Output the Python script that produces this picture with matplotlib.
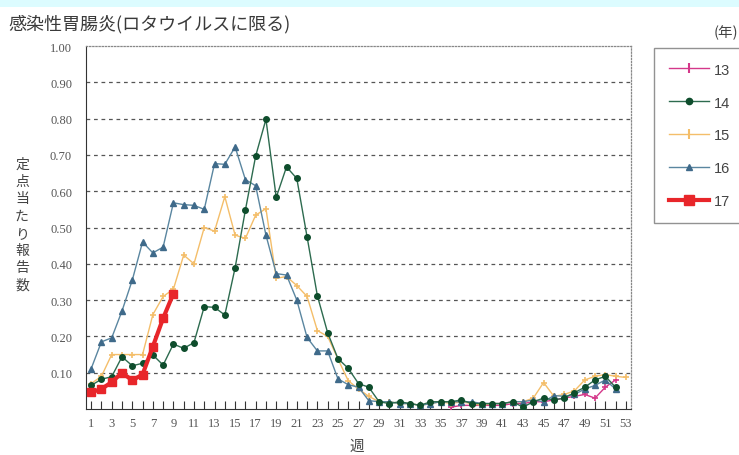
import matplotlib
matplotlib.use("Agg")
import matplotlib.pyplot as plt
import matplotlib.patches as patches
from matplotlib.lines import Line2D

plt.rcParams['font.family'] = ['Noto Sans CJK JP', 'DejaVu Sans']

weeks = list(range(1, 54))

y2013_weeks = list(range(36, 53))
y2013 = [0.005, 0.01, 0.01, 0.01, 0.01, 0.01, 0.015, 0.015, 0.02, 0.02,
         0.025, 0.03, 0.035, 0.04, 0.03, 0.06, 0.08]

y2014 = [0.065, 0.082, 0.089, 0.144, 0.119, 0.126, 0.149, 0.121, 0.179, 0.167,
         0.183, 0.282, 0.28, 0.259, 0.389, 0.548, 0.697, 0.798, 0.583, 0.667,
         0.635, 0.474, 0.312, 0.21, 0.139, 0.112, 0.07, 0.06, 0.02, 0.015,
         0.02, 0.015, 0.01, 0.02, 0.02, 0.02, 0.025, 0.015, 0.015, 0.015,
         0.015, 0.02, 0.005, 0.02, 0.03, 0.025, 0.03, 0.045, 0.06, 0.08,
         0.09, 0.06]

y2015 = [0.07, 0.09, 0.15, 0.15, 0.15, 0.15, 0.26, 0.31, 0.33, 0.424,
         0.40, 0.50, 0.49, 0.585, 0.479, 0.47, 0.534, 0.552, 0.36, 0.365,
         0.34, 0.31, 0.216, 0.20, 0.138, 0.078, 0.055, 0.035, 0.02, 0.02,
         0.015, 0.015, 0.01, 0.015, 0.02, 0.015, 0.02, 0.015, 0.01, 0.015,
         0.015, 0.02, 0.02, 0.03, 0.073, 0.035, 0.04, 0.05, 0.08, 0.09,
         0.095, 0.09, 0.087]

y2016 = [0.111, 0.185, 0.196, 0.27, 0.355, 0.46, 0.43, 0.446, 0.568, 0.563,
         0.561, 0.55, 0.676, 0.674, 0.722, 0.632, 0.615, 0.479, 0.373, 0.369,
         0.30, 0.197, 0.16, 0.16, 0.083, 0.067, 0.06, 0.023, 0.02, 0.02,
         0.015, 0.015, 0.01, 0.015, 0.02, 0.02, 0.02, 0.02, 0.015, 0.015,
         0.015, 0.02, 0.02, 0.025, 0.02, 0.037, 0.035, 0.04, 0.055, 0.065,
         0.08, 0.055]

y2017 = [0.046, 0.055, 0.074, 0.10, 0.079, 0.095, 0.172, 0.25, 0.318]

c13 = '#d4388a'
c14 = '#2d6b4f'
c15 = '#f4be6a'
c16 = '#5a86a0'
c17 = '#e8262a'

fig = plt.figure(figsize=(7.39, 4.56), dpi=100)
fig.patches.append(patches.Rectangle((0, 1 - 8 / 456), 1, 8 / 456,
                                     transform=fig.transFigure,
                                     facecolor='#dcfcff', edgecolor='none'))
ax = fig.add_axes([86 / 739, 46 / 456, 545 / 739, 363 / 456])

ax.plot(y2013_weeks, y2013, color=c13, lw=1.0, marker='+', ms=5, mew=1.2,
        zorder=3)
ax.plot(weeks[:52], y2014, color=c14, lw=1.0, marker='o', ms=4,
        mfc='#0e4d2c', mec='#0e4d2c', zorder=4)
ax.plot(weeks, y2015, color=c15, lw=1.0, marker='+', ms=5, mew=1.2,
        zorder=3)
ax.plot(weeks[:52], y2016, color=c16, lw=1.0, marker='^', ms=4,
        mfc='#3f6a8a', mec='#3f6a8a', zorder=3)
ax.plot(weeks[:9], y2017, color=c17, lw=3.0, marker='s', ms=6, zorder=5)

ax.set_xlim(0.5, 53.5)
ax.set_ylim(0, 1.0)
ax.set_yticks([i / 10 for i in range(1, 11)])
ax.set_yticklabels(['%.2f' % (i / 10) for i in range(1, 11)],
                   family='Liberation Serif', fontsize=9, color='#555555')
ax.set_xticks(weeks)
ax.set_xticklabels([str(w) if w % 2 else '' for w in weeks],
                   family='Liberation Serif', fontsize=9, color='#555555')
ax.tick_params(axis='x', direction='in', length=6, width=0.8, color='#333333',
               pad=6)
ax.tick_params(axis='y', length=0, pad=10)

for v in [i / 10 for i in range(1, 10)]:
    ax.axhline(v, color='#555555', lw=0.9, ls=(0, (3, 3)), zorder=1)

ax.spines['left'].set_color('#333333')
ax.spines['bottom'].set_color('#333333')
for s in ['top', 'right']:
    ax.spines[s].set_color('#888888')
    ax.spines[s].set_linestyle((0, (1, 1.5)))
    ax.spines[s].set_linewidth(0.9)

fig.text(8 / 739, 1 - 24 / 456, '感染性胃腸炎(ロタウイルスに限る)',
         fontsize=13, color='#3a3a3a', va='center', ha='left')
fig.text(22 / 739, 1 - 225 / 456, '\n'.join('定点当たり報告数'),
         fontsize=10, color='#444444', va='center', ha='center',
         linespacing=1.3)
fig.text(357 / 739, 1 - 447 / 456, '週', fontsize=10.5, color='#444444',
         va='center', ha='center')
fig.text(726 / 739, 1 - 33 / 456, '(年)', fontsize=10.5, color='#444444',
         va='center', ha='center')

handles = [
    Line2D([], [], color=c13, lw=1.0, marker='|', ms=7, mew=1.5),
    Line2D([], [], color=c14, lw=1.0, marker='o', ms=4.5, mfc='#0e4d2c',
           mec='#0e4d2c'),
    Line2D([], [], color=c15, lw=1.0, marker='|', ms=7, mew=1.5),
    Line2D([], [], color=c16, lw=1.0, marker='^', ms=4.5, mfc='#3f6a8a',
           mec='#3f6a8a'),
    Line2D([], [], color=c17, lw=3.0, marker='s', ms=7),
]
leg = fig.legend(handles, ['13', '14', '15', '16', '17'],
                 loc='upper left', bbox_to_anchor=(654 / 739, 1 - 49 / 456),
                 frameon=True, fancybox=False, edgecolor='#777777',
                 fontsize=10.5, handlelength=2.8, labelspacing=1.3,
                 borderpad=1.0, handletextpad=0.3, borderaxespad=0)
leg.get_frame().set_linewidth(1.0)
for t in leg.get_texts():
    t.set_color('#444444')
    t.set_family('Liberation Sans')

fig.savefig('out.png', dpi=100)
